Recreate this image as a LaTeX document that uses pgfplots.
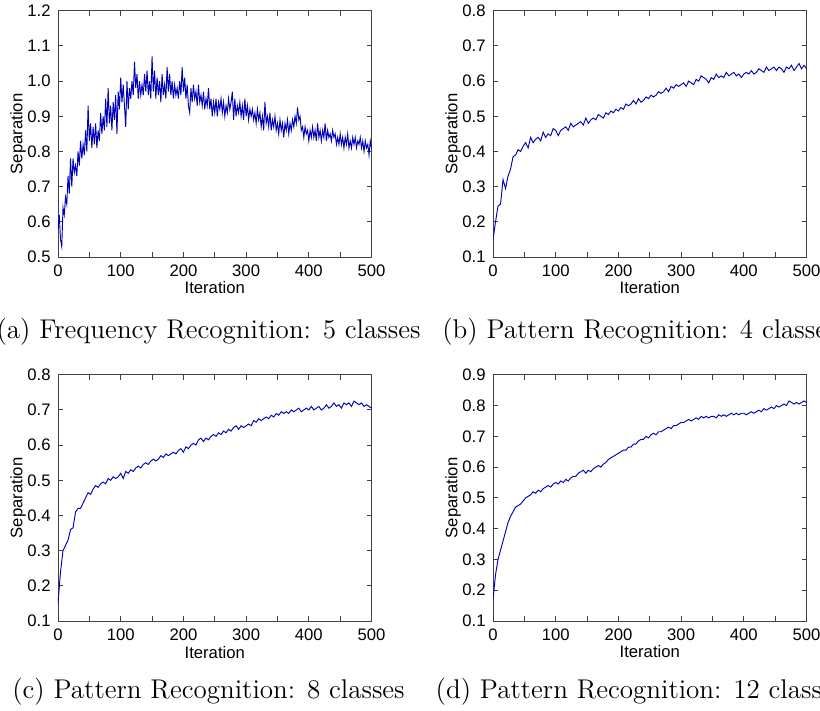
\documentclass[border=0pt]{standalone}
\usepackage{fontspec}
\setsansfont{Liberation Sans}
\usepackage{pgfplots}
\pgfplotsset{compat=1.18}
\pgfplotsset{
  mat/.style={
    scale only axis, width=150.5pt, height=118.2pt,
    xmin=0, xmax=500, xtick={0,100,200,300,400,500}, minor x tick num=1,
    tick align=inside, major tick length=2.4pt, minor tick length=2.4pt,
    axis line style={black!75, line width=0.45pt},
    every tick/.style={black!75, line width=0.45pt},
    tick label style={font=\fontsize{8}{9}\selectfont\sffamily},
    label style={font=\fontsize{8}{9}\selectfont\sffamily},
    /pgf/number format/assume math mode=true,
    scaled ticks=false,
    yticklabel style={/pgf/number format/fixed, /pgf/number format/precision=1, /pgf/number format/fixed zerofill},
    xlabel={Iteration}, ylabel={Separation},
    xlabel style={at={(axis description cs:0.5,-0.126)}, anchor=center},
    ylabel style={at={(axis description cs:-0.127,0.5)}, anchor=center},
    anchor=south west,
  },
  sep/.style={color=blue!72!black, line width=0.45pt, mark=none}
}
\begin{document}
\begin{tikzpicture}
\clip (0,0) rectangle (393.6pt,-340.8pt);
% (a)
\begin{axis}[mat, at={(27.84pt,-123.36pt)}, ymin=0.5, ymax=1.2,
  ytick={0.5,0.6,0.7,0.8,0.9,1.0,1.1,1.2}]
\addplot[sep] coordinates {
(0,0.58)(2,0.62)(4,0.55)(6,0.53)(8,0.64)(10,0.62)(12,0.67)(14,0.65)(16,0.73)(18,0.68)
(20,0.78)(22,0.70)(24,0.78)(26,0.74)(28,0.76)(30,0.73)(32,0.80)(34,0.76)(36,0.83)(38,0.78)
(40,0.82)(42,0.79)(44,0.86)(46,0.80)(48,0.93)(50,0.83)(52,0.88)(54,0.81)(56,0.87)(58,0.82)
(60,0.88)(62,0.81)(64,0.86)(66,0.83)(68,0.91)(70,0.85)(72,0.90)(74,0.86)(76,0.95)(78,0.87)
(80,0.98)(82,0.88)(84,0.93)(86,0.86)(88,0.94)(90,0.89)(92,0.96)(94,0.85)(96,0.97)(98,0.92)
(100,1.01)(102,0.94)(104,0.99)(106,0.93)(108,0.87)(110,1.00)(112,0.92)(114,0.98)(116,0.95)(118,1.00)
(120,0.96)(122,1.055)(124,0.98)(126,1.02)(128,0.95)(130,1.00)(132,0.96)(134,0.99)(136,0.96)(138,1.02)
(140,0.97)(142,1.03)(144,0.96)(146,1.00)(148,0.95)(150,1.07)(152,0.97)(154,1.03)(156,0.95)(158,1.01)
(160,0.96)(162,1.00)(164,0.94)(166,1.02)(168,0.96)(170,0.99)(172,0.95)(174,1.04)(176,0.97)(178,1.02)
(180,0.96)(182,1.00)(184,0.95)(186,0.99)(188,0.96)(190,0.98)(192,0.95)(194,1.00)(196,0.96)(198,1.04)
(200,0.97)(202,1.01)(204,0.95)(206,0.99)(208,0.93)(210,0.91)(212,0.98)(214,0.94)(216,0.99)(218,0.95)
(220,0.97)(222,0.93)(224,0.99)(226,0.94)(228,0.96)(230,0.93)(232,0.97)(234,0.92)(236,0.95)(238,0.93)
(240,0.98)(242,0.92)(244,0.95)(246,0.90)(248,0.94)(250,0.91)(252,0.95)(254,0.90)(256,0.94)(258,0.92)
(260,0.95)(262,0.91)(264,0.94)(266,0.90)(268,0.93)(270,0.91)(272,0.95)(274,0.92)(276,0.94)(278,0.97)
(280,0.89)(282,0.95)(284,0.90)(286,0.93)(288,0.91)(290,0.94)(292,0.90)(294,0.93)(296,0.89)(298,0.95)
(300,0.90)(302,0.93)(304,0.89)(306,0.92)(308,0.90)(310,0.92)(312,0.89)(314,0.91)(316,0.88)(318,0.92)
(320,0.89)(322,0.91)(324,0.87)(326,0.90)(328,0.86)(330,0.94)(332,0.88)(334,0.90)(336,0.87)(338,0.91)
(340,0.86)(342,0.89)(344,0.87)(346,0.90)(348,0.86)(350,0.88)(352,0.85)(354,0.89)(356,0.86)(358,0.88)
(360,0.84)(362,0.88)(364,0.86)(366,0.89)(368,0.85)(370,0.88)(372,0.86)(374,0.89)(376,0.87)(378,0.90)
(380,0.88)(382,0.925)(384,0.89)(386,0.90)(388,0.86)(390,0.87)(392,0.84)(394,0.87)(396,0.85)(398,0.86)
(400,0.83)(402,0.86)(404,0.84)(406,0.87)(408,0.84)(410,0.86)(412,0.83)(414,0.88)(416,0.84)(418,0.86)
(420,0.83)(422,0.86)(424,0.84)(426,0.88)(428,0.83)(430,0.86)(432,0.84)(434,0.85)(436,0.83)(438,0.86)
(440,0.84)(442,0.85)(444,0.82)(446,0.84)(448,0.82)(450,0.85)(452,0.82)(454,0.84)(456,0.81)(458,0.84)
(460,0.82)(462,0.85)(464,0.81)(466,0.83)(468,0.81)(470,0.84)(472,0.82)(474,0.84)(476,0.81)(478,0.83)
(480,0.82)(482,0.84)(484,0.81)(486,0.83)(488,0.80)(490,0.83)(492,0.81)(494,0.82)(496,0.79)(498,0.83)
(500,0.81)};
\end{axis}
% (b)
\begin{axis}[mat, at={(236.64pt,-123.36pt)}, ymin=0.1, ymax=0.8,
  ytick={0.1,0.2,0.3,0.4,0.5,0.6,0.7,0.8}]
\addplot[sep] coordinates {
(0,0.15)(4,0.20)(8,0.245)(12,0.25)(16,0.32)(20,0.295)(24,0.33)(28,0.35)(32,0.385)(36,0.39)
(40,0.405)(44,0.40)(48,0.415)(52,0.425)(56,0.41)(60,0.44)(64,0.425)(68,0.435)(72,0.44)(76,0.43)
(80,0.455)(84,0.44)(88,0.45)(92,0.445)(96,0.465)(100,0.46)(104,0.445)(108,0.46)(112,0.465)(116,0.47)
(120,0.46)(124,0.48)(128,0.47)(132,0.475)(136,0.48)(140,0.485)(144,0.475)(148,0.495)(152,0.48)(156,0.49)
(160,0.495)(164,0.49)(168,0.505)(172,0.50)(176,0.495)(180,0.51)(184,0.505)(188,0.515)(192,0.51)(196,0.52)
(200,0.515)(204,0.525)(208,0.52)(212,0.535)(216,0.53)(220,0.535)(224,0.545)(228,0.535)(232,0.55)(236,0.54)
(240,0.545)(244,0.555)(248,0.55)(252,0.56)(256,0.555)(260,0.56)(264,0.57)(268,0.565)(272,0.57)(276,0.58)
(280,0.57)(284,0.585)(288,0.58)(292,0.59)(296,0.585)(300,0.59)(304,0.595)(308,0.585)(312,0.60)(316,0.595)
(320,0.59)(324,0.605)(328,0.60)(332,0.615)(336,0.61)(340,0.605)(344,0.595)(348,0.61)(352,0.605)(356,0.62)
(360,0.61)(364,0.615)(368,0.61)(372,0.625)(376,0.615)(380,0.62)(384,0.625)(388,0.615)(392,0.62)(396,0.61)
(400,0.62)(404,0.625)(408,0.62)(412,0.63)(416,0.62)(420,0.625)(424,0.635)(428,0.63)(432,0.625)(436,0.64)
(440,0.63)(444,0.635)(448,0.64)(452,0.63)(456,0.64)(460,0.635)(464,0.625)(468,0.64)(472,0.635)(476,0.645)
(480,0.63)(484,0.64)(488,0.65)(492,0.635)(496,0.645)(500,0.635)};
\end{axis}
% (c)
\begin{axis}[mat, at={(27.84pt,-298.08pt)}, ymin=0.1, ymax=0.8,
  ytick={0.1,0.2,0.3,0.4,0.5,0.6,0.7,0.8}]
\addplot[sep] coordinates {
(0,0.15)(4,0.24)(8,0.30)(12,0.315)(16,0.33)(20,0.36)(24,0.365)(28,0.41)(32,0.42)(36,0.42)
(40,0.435)(44,0.45)(48,0.465)(52,0.46)(56,0.475)(60,0.485)(64,0.48)(68,0.49)(72,0.495)(76,0.49)
(80,0.505)(84,0.50)(88,0.51)(92,0.505)(96,0.51)(100,0.52)(104,0.505)(108,0.525)(112,0.52)(116,0.53)
(120,0.525)(124,0.535)(128,0.54)(132,0.535)(136,0.545)(140,0.55)(144,0.545)(148,0.555)(152,0.56)(156,0.555)
(160,0.56)(164,0.57)(168,0.565)(172,0.575)(176,0.57)(180,0.575)(184,0.58)(188,0.575)(192,0.585)(196,0.59)
(200,0.58)(204,0.595)(208,0.59)(212,0.60)(216,0.605)(220,0.60)(224,0.615)(228,0.62)(232,0.61)(236,0.62)
(240,0.615)(244,0.625)(248,0.63)(252,0.625)(256,0.635)(260,0.63)(264,0.64)(268,0.635)(272,0.645)(276,0.64)
(280,0.65)(284,0.655)(288,0.645)(292,0.655)(296,0.65)(300,0.655)(304,0.66)(308,0.655)(312,0.67)(316,0.665)
(320,0.675)(324,0.67)(328,0.675)(332,0.68)(336,0.675)(340,0.685)(344,0.68)(348,0.69)(352,0.685)(356,0.695)
(360,0.69)(364,0.695)(368,0.69)(372,0.70)(376,0.695)(380,0.70)(384,0.705)(388,0.695)(392,0.70)(396,0.705)
(400,0.70)(404,0.71)(408,0.70)(412,0.705)(416,0.71)(420,0.70)(424,0.705)(428,0.715)(432,0.705)(436,0.71)
(440,0.72)(444,0.71)(448,0.715)(452,0.705)(456,0.72)(460,0.715)(464,0.72)(468,0.71)(472,0.725)(476,0.72)
(480,0.715)(484,0.72)(488,0.71)(492,0.715)(496,0.71)(500,0.705)};
\end{axis}
% (d)
\begin{axis}[mat, at={(236.64pt,-298.08pt)}, ymin=0.1, ymax=0.9,
  ytick={0.1,0.2,0.3,0.4,0.5,0.6,0.7,0.8,0.9}]
\addplot[sep] coordinates {
(0,0.17)(4,0.25)(8,0.30)(12,0.33)(16,0.36)(20,0.39)(24,0.42)(28,0.44)(32,0.455)(36,0.47)
(40,0.475)(44,0.48)(48,0.49)(52,0.50)(56,0.505)(60,0.51)(64,0.52)(68,0.515)(72,0.525)(76,0.52)
(80,0.53)(84,0.535)(88,0.54)(92,0.535)(96,0.545)(100,0.55)(104,0.545)(108,0.555)(112,0.55)(116,0.56)
(120,0.555)(124,0.565)(128,0.57)(132,0.57)(136,0.58)(140,0.585)(144,0.59)(148,0.58)(152,0.59)(156,0.585)
(160,0.595)(164,0.60)(168,0.605)(172,0.60)(176,0.61)(180,0.615)(184,0.625)(188,0.63)(192,0.635)(196,0.64)
(200,0.645)(204,0.65)(208,0.655)(212,0.655)(216,0.665)(220,0.665)(224,0.675)(228,0.675)(232,0.685)(236,0.69)
(240,0.69)(244,0.70)(248,0.695)(252,0.705)(256,0.71)(260,0.705)(264,0.715)(268,0.715)(272,0.72)(276,0.725)
(280,0.73)(284,0.725)(288,0.735)(292,0.735)(296,0.74)(300,0.745)(304,0.745)(308,0.75)(312,0.755)(316,0.75)
(320,0.755)(324,0.76)(328,0.755)(332,0.765)(336,0.76)(340,0.765)(344,0.76)(348,0.765)(352,0.765)(356,0.76)
(360,0.77)(364,0.765)(368,0.77)(372,0.765)(376,0.77)(380,0.775)(384,0.77)(388,0.775)(392,0.77)(396,0.775)
(400,0.775)(404,0.77)(408,0.775)(412,0.78)(416,0.775)(420,0.78)(424,0.785)(428,0.78)(432,0.79)(436,0.785)
(440,0.79)(444,0.795)(448,0.79)(452,0.80)(456,0.795)(460,0.80)(464,0.805)(468,0.80)(472,0.815)(476,0.81)
(480,0.805)(484,0.81)(488,0.805)(492,0.81)(496,0.815)(500,0.81)};
\end{axis}
\node[font=\fontsize{13}{15}\selectfont, anchor=base] at (100.1pt,-162.24pt) {(a) Frequency Recognition: 5 classes};
\node[font=\fontsize{13}{15}\selectfont, anchor=base] at (307.2pt,-162.24pt) {(b) Pattern Recognition: 4 classes};
\node[font=\fontsize{13}{15}\selectfont, anchor=base] at (100.1pt,-335.04pt) {(c) Pattern Recognition: 8 classes};
\node[font=\fontsize{13}{15}\selectfont, anchor=base] at (307.2pt,-335.04pt) {(d) Pattern Recognition: 12 classes};
\end{tikzpicture}
\end{document}
